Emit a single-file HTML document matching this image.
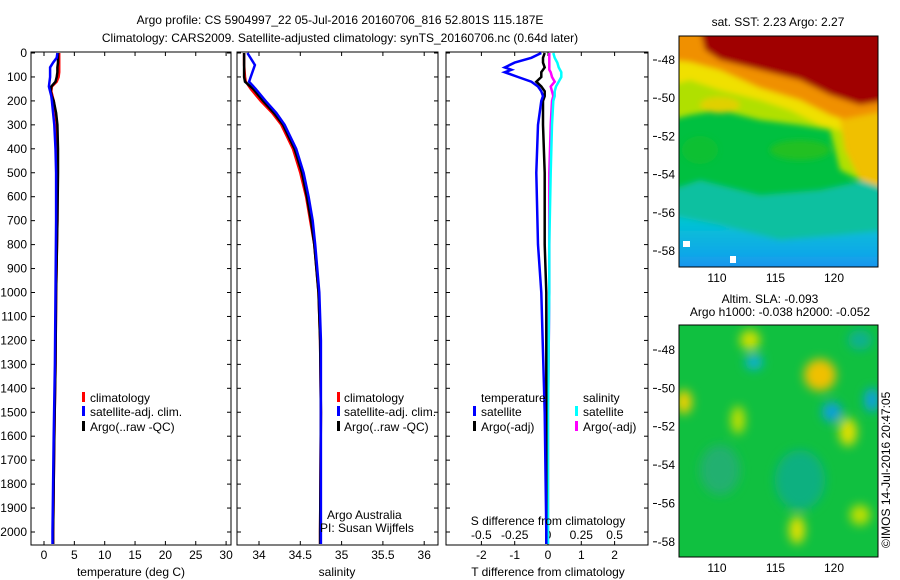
<!DOCTYPE html>
<html><head><meta charset="utf-8"><style>
body{margin:0;background:#fff;}
svg{display:block;font-family:"Liberation Sans",sans-serif;}
text{font-size:12px;fill:#000;}
</style></head><body>
<svg id="chart" width="900" height="580" viewBox="0 0 900 580">
<defs>
<filter id="blur4" x="-20%" y="-20%" width="140%" height="140%"><feGaussianBlur stdDeviation="5"/></filter>
<filter id="blur2"><feGaussianBlur stdDeviation="3"/></filter>
<clipPath id="clipM1"><rect x="679" y="36" width="199" height="231"/></clipPath>
<clipPath id="clipM2"><rect x="679" y="325" width="199" height="232"/></clipPath>
<linearGradient id="g1" x1="0" y1="0" x2="0" y2="1">
<stop offset="0" stop-color="#00c8d0"/><stop offset="0.6" stop-color="#10a8e8"/><stop offset="1" stop-color="#2080f0"/></linearGradient>
</defs>
<text x="340" y="24" text-anchor="middle">Argo profile: CS 5904997_22 05-Jul-2016 20160706_816 52.801S 115.187E</text>
<text x="340" y="42" text-anchor="middle">Climatology: CARS2009. Satellite-adjusted climatology: synTS_20160706.nc (0.64d later)</text>
<g id="axes"></g>
<g id="maps">
 <g clip-path="url(#clipM1)">
  <rect x="679" y="36" width="199" height="231" fill="#00c040"/>
  <g filter="url(#blur2)">
  <polygon points="670,190 700,180 760,195 820,190 890,175 890,280 670,280" fill="#10c0a0"/>
  <polygon points="670,215 720,225 780,240 840,235 890,230 890,280 670,280" fill="url(#g1)"/>
  <polygon points="670,30 890,30 890,150 860,180 840,170 830,130 800,125 760,120 720,110 690,115 670,120" fill="#b0e000"/>
  <polygon points="670,30 890,30 890,140 860,150 840,130 820,125 790,110 760,100 720,90 690,80 670,85" fill="#f0e000"/>
  <polygon points="670,30 890,30 890,135 860,125 830,115 800,100 760,88 720,70 690,62 670,60" fill="#f09000"/>
  <polygon points="700,30 890,30 890,100 860,105 830,95 800,80 760,70 720,60 705,50" fill="#a00000"/>
  <polygon points="840,120 890,110 890,190 860,180 845,150" fill="#f0c000"/>
  <ellipse cx="720" cy="105" rx="20" ry="8" fill="#e0d000"/>
  <ellipse cx="800" cy="150" rx="30" ry="10" fill="#20c020"/>
  <ellipse cx="700" cy="150" rx="18" ry="14" fill="#10c030"/>
  </g>
  <rect x="683" y="241" width="7" height="6" fill="#fff"/><rect x="730" y="256" width="6" height="7" fill="#fff"/>
 </g>
 <rect x="679" y="36" width="199" height="231" fill="none" stroke="#000"/>
 <g clip-path="url(#clipM2)">
  <rect x="679" y="325" width="199" height="232" fill="#10c040"/>
  <g filter="url(#blur4)">
  <ellipse cx="820" cy="375" rx="16" ry="16" fill="#f0c000"/>
  <ellipse cx="750" cy="340" rx="10" ry="10" fill="#d0e000"/>
  <ellipse cx="754" cy="362" rx="9" ry="8" fill="#10b0d0"/>
  <ellipse cx="832" cy="412" rx="10" ry="10" fill="#10a0d8"/>
  <ellipse cx="872" cy="400" rx="8" ry="12" fill="#10a0d8"/>
  <ellipse cx="848" cy="432" rx="9" ry="14" fill="#e0e000"/>
  <ellipse cx="684" cy="402" rx="8" ry="12" fill="#f0d000"/>
  <ellipse cx="738" cy="420" rx="7" ry="14" fill="#c0e000"/>
  <ellipse cx="797" cy="530" rx="8" ry="14" fill="#e0e000"/>
  <ellipse cx="860" cy="515" rx="10" ry="10" fill="#c0e000"/>
  <ellipse cx="800" cy="480" rx="25" ry="30" fill="#10b080"/>
  <ellipse cx="720" cy="470" rx="20" ry="25" fill="#20b070"/>
  <ellipse cx="860" cy="340" rx="12" ry="10" fill="#10b090"/>
  </g>
 </g>
 <rect x="679" y="325" width="199" height="232" fill="none" stroke="#000"/>
 <text x="778" y="26" text-anchor="middle">sat. SST: 2.23 Argo: 2.27</text>
 <text x="770" y="303" text-anchor="middle">Altim. SLA: -0.093</text>
 <text x="780" y="316" text-anchor="middle">Argo h1000: -0.038 h2000: -0.052</text>
 <text transform="translate(890,548) rotate(-90)">©IMOS 14-Jul-2016 20:47:05</text>
</g>
<g id="legends">
 <rect x="82" y="392" width="3" height="10" fill="#f00"/><text x="90" y="402">climatology</text>
 <rect x="82" y="406" width="3" height="10" fill="#00f"/><text x="90" y="416">satellite-adj. clim.</text>
 <rect x="82" y="421" width="3" height="10" fill="#000"/><text x="90" y="431">Argo(..raw -QC)</text>
 <rect x="337" y="392" width="3" height="10" fill="#f00"/><text x="344" y="402">climatology</text>
 <rect x="337" y="406" width="3" height="10" fill="#00f"/><text x="344" y="416">satellite-adj. clim.</text>
 <rect x="337" y="421" width="3" height="10" fill="#000"/><text x="344" y="431">Argo(..raw -QC)</text>
 <text x="327" y="519">Argo Australia</text>
 <text x="320" y="532">PI: Susan Wijffels</text>
 <text x="481" y="402">temperature</text>
 <rect x="473" y="406" width="3" height="10" fill="#00f"/><text x="481" y="416">satellite</text>
 <rect x="473" y="421" width="3" height="10" fill="#000"/><text x="481" y="431">Argo(-adj)</text>
 <text x="583" y="402">salinity</text>
 <rect x="575" y="406" width="3" height="10" fill="#0ff"/><text x="583" y="416">satellite</text>
 <rect x="575" y="421" width="3" height="10" fill="#f0f"/><text x="583" y="431">Argo(-adj)</text>
 <text x="548" y="525" text-anchor="middle">S difference from climatology</text>
</g>
</svg>
<script>
// ---- data ----
const depthTicks=[0,100,200,300,400,500,600,700,800,900,1000,1100,1200,1300,1400,1500,1600,1700,1800,1900,2000];
const tempTicks=[0,5,10,15,20,25,30];
const salTicks=[34,34.5,35,35.5,36];
const tdiffTicks=[-2,-1,0,1,2];
const sdiffTicks=[-0.5,-0.25,0,0.25,0.5];
const sdiffTickLabels=["-0.5","-0.25","0","0.25","0.5"];
const mapLonTicks=[110,115,120];
const mapLatTicks=[-48,-50,-52,-54,-56,-58];

const tDepths=[0,20,40,60,80,100,120,140,160,180,200,250,300,400,500,700,1000,1300,1600,2000,2050];
const tClim=[2.5,2.5,2.5,2.5,2.5,2.4,2.1,1.3,1.2,1.4,1.6,1.9,2.1,2.2,2.2,2.2,2.0,1.9,1.7,1.5,1.5];
const tSat=[2.2,2.1,1.5,1.0,1.0,1.0,0.9,0.8,1.0,1.2,1.3,1.5,1.7,1.9,2.0,2.0,1.9,1.8,1.6,1.4,1.4];
const tArgo=[2.3,2.3,2.3,2.2,2.2,2.1,1.9,1.2,1.1,1.3,1.6,2.0,2.2,2.3,2.3,2.2,2.0,1.9,1.7,1.5,1.5];

const sDepths=[0,50,100,120,150,200,250,300,400,500,600,700,800,1000,1200,1500,2000,2050];
const sClim=[33.82,33.82,33.83,33.84,33.9,34.02,34.16,34.27,34.41,34.5,34.57,34.62,34.67,34.72,34.74,34.75,34.74,34.74];
const sSat=[33.86,33.95,33.9,33.88,33.96,34.08,34.21,34.31,34.45,34.54,34.6,34.65,34.68,34.73,34.75,34.75,34.75,34.75];
const sArgo=[33.82,33.82,33.82,33.83,33.93,34.05,34.18,34.29,34.43,34.52,34.58,34.63,34.67,34.72,34.74,34.75,34.74,34.74];

const dDepths=[0,20,40,60,70,80,100,120,140,160,180,200,300,500,800,1000,1500,2000,2050];
const dTSat=[-0.2,-0.5,-1.0,-1.3,-1.1,-1.3,-0.9,-0.5,-0.3,-0.2,-0.15,-0.2,-0.3,-0.35,-0.3,-0.2,-0.1,-0.05,-0.05];
const dTArgo=[-0.1,-0.15,-0.15,-0.1,-0.15,-0.2,-0.2,-0.35,-0.2,-0.1,-0.1,-0.15,-0.15,-0.1,-0.1,-0.05,-0.05,-0.05,-0.05];
const dSSat=[0.04,0.05,0.07,0.08,0.09,0.1,0.1,0.08,0.06,0.05,0.05,0.04,0.03,0.02,0.01,0.01,0.0,0.0,0.0];
const dSArgo=[0.01,0.01,0.01,0.01,0.01,0.02,0.03,0.05,0.02,0.03,0.04,0.03,0.02,0.01,0.01,0.01,0.0,0.0,0.0];

// ---- scales ----
const NS='http://www.w3.org/2000/svg';
const yD=d=>53+d*0.2395;
const xT=v=>44+v*6.07;
const xS=v=>259+(v-34)*82.6;
const xDT=v=>548+v*33.3;
const xDS=v=>548+v*133.2;
const xLon=v=>717+(v-110)*11.7;
const g=document.getElementById('axes');
function mk(tag,attrs,parent){const e=document.createElementNS(NS,tag);for(const k in attrs)e.setAttribute(k,attrs[k]);(parent||g).appendChild(e);return e;}
const panels=[{x0:31,x1:231,n:'temperature'},{x0:237,x1:438,n:'salinity'},{x0:446,x1:648,n:'difference'}];
panels.forEach(p=>{
 const r=mk('rect',{x:p.x0,y:52,width:p.x1-p.x0,height:493,fill:'none',stroke:'#000'});
 
 
 depthTicks.forEach(d=>{const y=yD(d);
  mk('line',{x1:p.x0,x2:p.x0+4,y1:y,y2:y,stroke:'#000'});
  mk('line',{x1:p.x1,x2:p.x1-4,y1:y,y2:y,stroke:'#000'});});
});
depthTicks.forEach(d=>{const t=mk('text',{x:27,y:yD(d)+4,'text-anchor':'end'});t.textContent=d;
 
 });
function xticks(ticks,labels,f,y0,ly,top){ticks.forEach((v,i)=>{const x=f(v);
 mk('line',{x1:x,x2:x,y1:545,y2:541,stroke:'#000'});
 if(top)mk('line',{x1:x,x2:x,y1:52,y2:56,stroke:'#000'});
 const t=mk('text',{x:x,y:ly,'text-anchor':'middle'});t.textContent=labels[i];
 
 });}
xticks(tempTicks,tempTicks,xT,545,559,true);
xticks(salTicks,salTicks,xS,545,559,true);
xticks(tdiffTicks,tdiffTicks,xDT,545,559,true);
sdiffTicks.forEach((v,i)=>{const t=mk('text',{x:xDS(v),y:539,'text-anchor':'middle'});t.textContent=sdiffTickLabels[i];
 
 });
[['temperature (deg C)',131],['salinity',337],['T difference from climatology',548]].forEach(([s,x])=>{
 const t=mk('text',{x:x,y:576,'text-anchor':'middle'});t.textContent=s;
 
 });
// map axes
[[36,267,60,0],[325,557,350,1]].forEach(([t0,b,y48,k])=>{
 const sc=(b-t0)/231*19.1;
 mapLatTicks.forEach(v=>{const y=y48+(-48-v)*sc;
  mk('line',{x1:653,x2:657,y1:y,y2:y,stroke:'#000'});
  mk('line',{x1:679,x2:683,y1:y,y2:y,stroke:'#000'});
  mk('line',{x1:878,x2:874,y1:y,y2:y,stroke:'#000'});
  const t=mk('text',{x:675,y:y+4,'text-anchor':'end'});t.textContent=v;
  
  });
 mapLonTicks.forEach(v=>{const x=xLon(v);
  mk('line',{x1:x,x2:x,y1:b,y2:b-4,stroke:'#000'});
  mk('line',{x1:x,x2:x,y1:t0,y2:t0+4,stroke:'#000'});
  const t=mk('text',{x:x,y:b+15,'text-anchor':'middle'});t.textContent=v;
  
  });
});
function line(ds,vs,fx,color,name,w){const pts=ds.map((d,i)=>fx(vs[i]).toFixed(1)+','+yD(d).toFixed(1)).join(' ');
 const l=mk('polyline',{points:pts,fill:'none',stroke:color,'stroke-width':w||2.5});
 
 }
line(tDepths,tClim,xT,'#f00','temp-climatology-line');
line(tDepths,tArgo,xT,'#000','temp-argo-line');
line(tDepths,tSat,xT,'#00f','temp-satellite-line');
line(sDepths,sClim,xS,'#f00','sal-climatology-line');
line(sDepths,sArgo,xS,'#000','sal-argo-line');
line(sDepths,sSat,xS,'#00f','sal-satellite-line');
line(dDepths,dSArgo,xDS,'#f0f','s-diff-argo-line');
line(dDepths,dSSat,xDS,'#0ff','s-diff-satellite-line');
line(dDepths,dTArgo,xDT,'#000','t-diff-argo-line');
line(dDepths,dTSat,xDT,'#00f','t-diff-satellite-line');
</script>
</body></html>
